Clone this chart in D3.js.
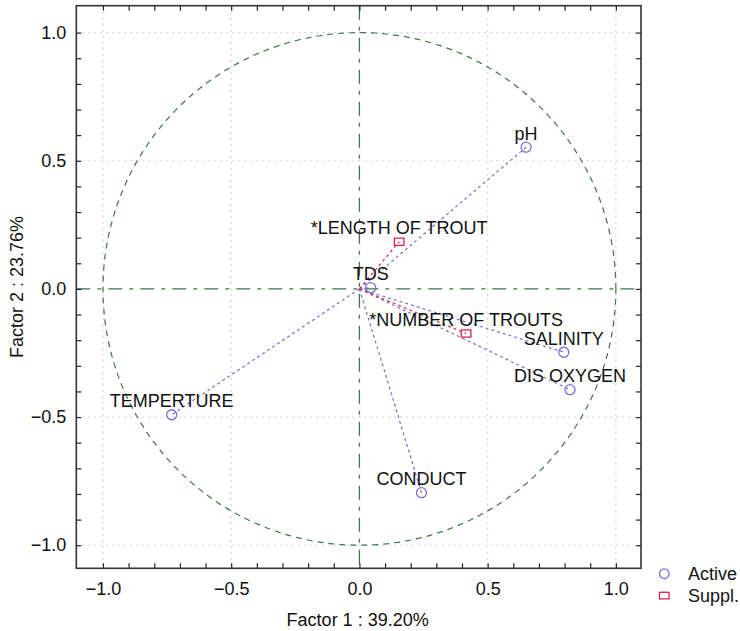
<!DOCTYPE html>
<html><head><meta charset="utf-8">
<script src="https://cdn.jsdelivr.net/npm/d3@7"></script>
<style>body{margin:0;background:#fff}svg{display:block}text{font-family:"Liberation Sans",Arial,Helvetica,sans-serif;fill:#111}</style>
</head><body>
<svg id="c" width="740" height="631"></svg>
<script>
const activeNames = ["pH","TDS","SALINITY","DIS OXYGEN","TEMPERTURE","CONDUCT"];
const activeX = [0.650, 0.044, 0.797, 0.821, -0.732, 0.242];
const activeY = [0.553, 0.005, -0.247, -0.393, -0.491, -0.795];
const supplNames = ["*LENGTH OF TROUT","*NUMBER OF TROUTS"];
const supplX = [0.155, 0.416];
const supplY = [0.184, -0.174];
const majorTicks = [-1.0, -0.5, 0.0, 0.5, 1.0];
const minorTicks = d3.range(-10, 11).map(i => i / 10);
const xTitle = "Factor 1 : 39.20%";
const yTitle = "Factor 2 : 23.76%";
const legendLabels = ["Active", "Suppl."];

const L = 76.3, R = 641, T = 5.7, B = 568.3;
const x = d3.scaleLinear().domain([-1.104, 1.098]).range([L, R]);
const y = d3.scaleLinear().domain([-1.09, 1.105]).range([B, T]);
const svg = d3.select("#c");
const purple = "#7a6fd6", red = "#e3234f", green = "#3f7549";
const fmt = d3.format(".1f");

// grid
const grid = svg.append("g");
majorTicks.filter(v => v !== 0).forEach(v => {
  grid.append("line").attr("x1", x(v)).attr("x2", x(v)).attr("y1", T).attr("y2", B)
    .attr("stroke", "#d4d4d4").attr("stroke-width", 1.2).attr("stroke-dasharray", "2,4");
  grid.append("line").attr("y1", y(v)).attr("y2", y(v)).attr("x1", L).attr("x2", R)
    .attr("stroke", "#d4d4d4").attr("stroke-width", 1.2).attr("stroke-dasharray", "2,4");
});

// unit circle
const circ = d3.range(0, 361, 1).map(a => [Math.cos(a * Math.PI / 180), Math.sin(a * Math.PI / 180)]);
svg.append("path").attr("d", d3.line().x(d => x(d[0])).y(d => y(d[1]))(circ))
  .attr("fill", "none").attr("stroke", green).attr("stroke-width", 1.2).attr("stroke-dasharray", "6,5");

// zero lines
svg.append("line").attr("x1", L).attr("x2", R).attr("y1", y(0)).attr("y2", y(0))
  .attr("stroke", green).attr("stroke-width", 1.3).attr("stroke-dasharray", "14,7,4,7");
svg.append("line").attr("x1", x(0)).attr("x2", x(0)).attr("y1", T).attr("y2", B)
  .attr("stroke", green).attr("stroke-width", 1.3).attr("stroke-dasharray", "14,7,4,7");

// vectors
const active = activeNames.map((n, i) => ({n, x: activeX[i], y: activeY[i]}));
const suppl = supplNames.map((n, i) => ({n, x: supplX[i], y: supplY[i]}));
svg.append("g").selectAll("line").data(active).join("line")
  .attr("x1", x(0)).attr("y1", y(0)).attr("x2", d => x(d.x)).attr("y2", d => y(d.y))
  .attr("stroke", purple).attr("stroke-width", 1.2).attr("stroke-dasharray", "3,3");
svg.append("g").selectAll("line").data(suppl).join("line")
  .attr("x1", x(0)).attr("y1", y(0)).attr("x2", d => x(d.x)).attr("y2", d => y(d.y))
  .attr("stroke", red).attr("stroke-width", 1.2).attr("stroke-dasharray", "3,3");

// markers
svg.append("g").selectAll("circle").data(active).join("circle")
  .attr("cx", d => x(d.x)).attr("cy", d => y(d.y)).attr("r", 5)
  .attr("fill", "none").attr("stroke", purple).attr("stroke-width", 1.3);
svg.append("g").selectAll("rect").data(suppl).join("rect")
  .attr("x", d => x(d.x) - 4.8).attr("y", d => y(d.y) - 3.6).attr("width", 9.6).attr("height", 7.2)
  .attr("fill", "none").attr("stroke", red).attr("stroke-width", 1.3);

// labels
svg.append("g").selectAll("text").data(active.concat(suppl)).join("text")
  .attr("x", d => x(d.x)).attr("y", d => y(d.y) - 7.5).attr("text-anchor", "middle")
  .attr("font-size", 18).text(d => d.n);

// axes
function styleAxis(g) {
  g.select(".domain").remove();
  g.selectAll(".tick line").attr("stroke", "#222").attr("stroke-width", 1.2);
  g.selectAll("text").attr("font-size", 18).attr("font-family", '"Liberation Sans",Arial,sans-serif').attr("fill", "#111");
}
svg.append("g").attr("transform", `translate(0,${B})`)
  .call(d3.axisBottom(x).tickValues(minorTicks).tickSize(-5).tickFormat("")).call(styleAxis);
svg.append("g").attr("transform", `translate(0,${B})`)
  .call(d3.axisBottom(x).tickValues(majorTicks).tickSize(0).tickPadding(14).tickFormat(fmt)).call(styleAxis);
svg.append("g").attr("transform", `translate(0,${T})`)
  .call(d3.axisTop(x).tickValues(minorTicks).tickSize(-5).tickFormat("")).call(styleAxis);
svg.append("g").attr("transform", `translate(${L},0)`)
  .call(d3.axisLeft(y).tickValues(minorTicks).tickSize(-5).tickFormat("")).call(styleAxis);
svg.append("g").attr("transform", `translate(${L},0)`)
  .call(d3.axisLeft(y).tickValues(majorTicks).tickSize(0).tickPadding(10).tickFormat(fmt)).call(styleAxis);
svg.append("g").attr("transform", `translate(${R},0)`)
  .call(d3.axisRight(y).tickValues(minorTicks).tickSize(-5).tickFormat("")).call(styleAxis);

// frame
svg.append("rect").attr("x", L).attr("y", T).attr("width", R - L).attr("height", B - T)
  .attr("fill", "none").attr("stroke", "#333").attr("stroke-width", 1.6);

// titles
svg.append("text").attr("x", (L + R) / 2 - 1).attr("y", 626).attr("text-anchor", "middle")
  .attr("font-size", 18).text(xTitle);
svg.append("text").attr("transform", `translate(23,${y(0) - 2}) rotate(-90)`).attr("text-anchor", "middle")
  .attr("font-size", 18).text(yTitle);

// legend
const lg = svg.append("g");
lg.append("circle").attr("cx", 664.3).attr("cy", 573.7).attr("r", 4.8)
  .attr("fill", "none").attr("stroke", purple).attr("stroke-width", 1.3);
lg.append("rect").attr("x", 659.5).attr("y", 592.3).attr("width", 9.6).attr("height", 6.6)
  .attr("fill", "none").attr("stroke", red).attr("stroke-width", 1.3);
lg.selectAll("text").data(legendLabels).join("text")
  .attr("x", 688).attr("y", (d, i) => 580 + i * 21.5).attr("font-size", 18).text(d => d);
</script>
</body></html>
